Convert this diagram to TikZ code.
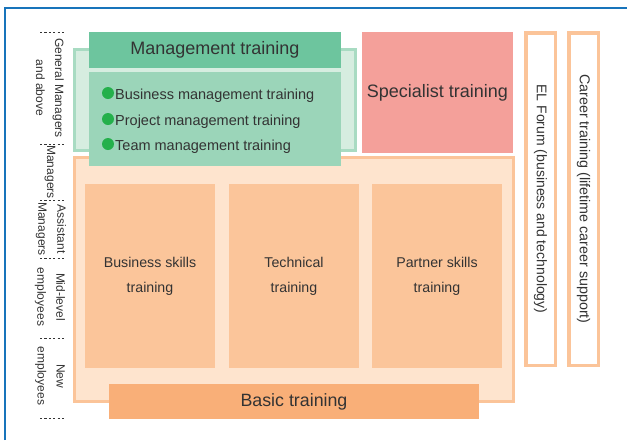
\documentclass[tikz,border=0pt]{standalone}
\usepackage{fontspec}
\setmainfont{Liberation Sans}
\definecolor{frameblue}{HTML}{1874BB}
\definecolor{mgmthead}{HTML}{6DC59E}
\definecolor{mgmtbody}{HTML}{9BD5B9}
\definecolor{greenfill}{HTML}{D6EDE0}
\definecolor{greenedge}{HTML}{A8DBC2}
\definecolor{bulletgreen}{HTML}{24B04B}
\definecolor{specfill}{HTML}{F4A09A}
\definecolor{orangefill}{HTML}{FEE4CE}
\definecolor{orangeedge}{HTML}{FBC499}
\definecolor{innerfill}{HTML}{FBC59A}
\definecolor{basicfill}{HTML}{F9AF78}
\definecolor{txt}{HTML}{333333}
\begin{document}
\begin{tikzpicture}[x=1pt,y=-1pt,
  box/.style={rectangle,inner sep=0pt,outer sep=0pt,text=txt,align=center},
  sidelabel/.style={inner sep=0pt,text=txt,align=center,rotate=-90,font=\fontsize{12}{19}\selectfont},
  tick/.style={draw=txt,line width=0.6pt,dash pattern=on 2.2pt off 2.2pt},
  bullet/.style={circle,fill=bulletgreen,minimum size=12pt,inner sep=0pt},
  item/.style={anchor=base west,inner sep=0pt,text=txt,font=\fontsize{14.5}{17}\selectfont},
  vbox/.style={box,draw=orangeedge,line width=3.5pt,fill=white,minimum width=29.5pt,minimum height=332.5pt}
]
\useasboundingbox (0,0) rectangle (627,440);
\fill[white] (0,0) rectangle (627,440);
% frame
\coordinate (fc) at (5,440);
\coordinate (fa) at (5,8);
\coordinate (fb) at (627,8);
\draw[frameblue,line width=2pt] (fc) -- (fa) -- (fb);

% orange outer
\node[box,draw=orangeedge,fill=orangefill,line width=3pt,minimum width=439pt,minimum height=244pt] (orange) at (294,279.5) {};
\node[box,fill=innerfill,minimum width=130pt,minimum height=184pt,font=\fontsize{14.2}{25}\selectfont] (bus) at (150,276) {Business skills\\training};
\node[box,fill=innerfill,minimum width=130pt,minimum height=184pt,font=\fontsize{14.2}{25}\selectfont] (tech) at (294,276) {Technical\\training};
\node[box,fill=innerfill,minimum width=130pt,minimum height=184pt,font=\fontsize{14.2}{25}\selectfont] (part) at (437,276) {Partner skills\\training};
\node[box,fill=basicfill,minimum width=370pt,minimum height=35pt,font=\fontsize{17.8}{20}\selectfont] (basic) at (294,401.5) {Basic training};

% green
\node[box,draw=greenedge,fill=greenfill,line width=3pt,minimum width=281pt,minimum height=101pt] (gouter) at (215,100) {};
\node[box,fill=mgmthead,minimum width=252pt,minimum height=36pt,font=\fontsize{18}{20}\selectfont] (mhead) at (215,50) {Management training};
\node[box,fill=mgmtbody,minimum width=252pt,minimum height=94pt] (mbody) at (215,119) {};
\node[bullet] (b1) at (108,93) {};
\node[bullet] (b2) at (108,119) {};
\node[bullet] (b3) at (108,144) {};
\node[item] (t1) at (115,99) {Business management training};
\node[item] (t2) at (115,125) {Project management training};
\node[item] (t3) at (115,150) {Team management training};

% specialist
\node[box,fill=specfill,minimum width=151pt,minimum height=121pt,font=\fontsize{18}{20}\selectfont] (spec) at (437.5,92.5) {Specialist training};

% vertical boxes
\node[vbox] (el) at (540.5,199) {};
\node[vbox] (car) at (583.5,199) {};
\node[rotate=-90,text=txt,inner sep=0pt,font=\fontsize{14}{16}\selectfont] (elt) at (el.center) {EL Forum (business and technology)};
\node[rotate=-90,text=txt,inner sep=0pt,font=\fontsize{14.3}{16}\selectfont] (cart) at (car.center) {Career training (lifetime career support)};

% side labels
\node[sidelabel] (l1) at (50,88) {General Managers\\and above};
\node[sidelabel] (l2) at (50,172) {Managers};
\node[sidelabel] (l3) at (51,229) {Assistant\\Managers};
\node[sidelabel] (l4) at (50,297) {Mid-level\\employees};
\node[sidelabel] (l5) at (50,376) {New\\employees};
\foreach \yy [count=\i] in {32,144,200,258,338,418}{
  \coordinate (ta\i) at (40,\yy);
  \coordinate (tb\i) at (64,\yy);
  \draw[tick] (ta\i) -- (tb\i);
}
\end{tikzpicture}
\end{document}
